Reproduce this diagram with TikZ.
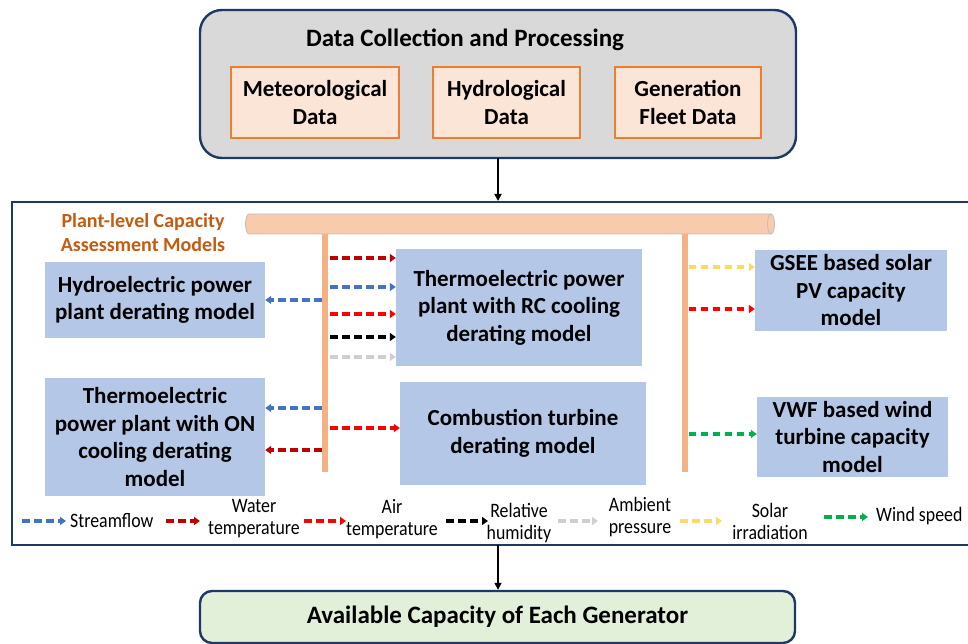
\documentclass[tikz,border=0pt]{standalone}
\usepackage{fontspec}
\setmainfont{Carlito}
\newfontfamily\legendfont[FakeStretch=0.87]{Carlito}
\usetikzlibrary{arrows.meta}

\definecolor{navy}{HTML}{203864}
\definecolor{panelgray}{HTML}{D9D9D9}
\definecolor{srcfill}{HTML}{FBE5D6}
\definecolor{srcline}{HTML}{ED7D31}
\definecolor{pipefill}{HTML}{F8CBAD}
\definecolor{pipeline}{HTML}{BFBFBF}
\definecolor{barfill}{HTML}{F4B183}
\definecolor{modelblue}{HTML}{B4C7E7}
\definecolor{titleorange}{HTML}{C55A11}
\definecolor{outfill}{HTML}{E2F0D9}
\definecolor{cstream}{HTML}{4472C4}
\definecolor{cwater}{HTML}{C00000}
\definecolor{cair}{HTML}{FF0000}
\definecolor{chum}{HTML}{000000}
\definecolor{cpress}{HTML}{D0CECE}
\definecolor{csolar}{HTML}{FFD966}
\definecolor{cwind}{HTML}{00B050}

\tikzset{
  boxtext/.style={inner sep=0pt, align=center, font=\fontsize{23}{27.5}\selectfont\bfseries},
  srcbox/.style={boxtext, draw=srcline, line width=1.6pt, fill=srcfill, minimum height=71},
  modelbox/.style={boxtext, fill=modelblue},
  bar/.style={fill=barfill, inner sep=0pt, minimum width=6},
  flow/.style={line width=3.4pt, dash pattern=on 7.5pt off 4.5pt,
    -{Triangle[length=6pt,width=8pt]}},
  flowstream/.style={flow, cstream},
  flowwater/.style={flow, cwater},
  flowair/.style={flow, cair},
  flowhum/.style={flow, chum},
  flowpress/.style={flow, cpress},
  flowsolar/.style={flow, csolar},
  flowwind/.style={flow, cwind},
  legtext/.style={inner sep=0pt, align=center, font=\legendfont\fontsize{20.5}{22}\selectfont},
  mainarrow/.style={line width=1.6pt, -{Triangle[length=7pt,width=7pt]}},
}

\begin{document}
\begin{tikzpicture}[x=1pt,y=-1pt]
\useasboundingbox (0,0) rectangle (968,644);
\clip (0,0) rectangle (968,644);

% data collection panel
\draw[navy, line width=2.4pt, fill=panelgray, rounded corners=22] (200,10) rectangle (796,158);
\node[inner sep=0pt, font=\fontsize{25}{30}\selectfont\bfseries] (dctitle) at (465,40) {Data Collection and Processing};
\node[srcbox, minimum width=168] (met) at (315,102.5) {Meteorological\\Data};
\node[srcbox, minimum width=147] (hyd) at (506.5,102.5) {Hydrological\\Data};
\node[srcbox, minimum width=146] (gen) at (688,102.5) {Generation\\Fleet Data};
\coordinate (dcbottom) at (498,158);

% plant-level model frame
\draw[navy, line width=2.4pt] (12,202) rectangle (990,545);
\coordinate (frametop) at (498,201);
\coordinate (framebottom) at (498,545);
\draw[mainarrow] (dcbottom) -- (frametop);

\node[inner sep=0pt, align=center, text=titleorange,
  font=\fontsize{20}{24}\selectfont\bfseries] (pltitle) at (143,233) {Plant-level Capacity\\Assessment Models};

% horizontal pipe
\filldraw[fill=pipefill, draw=pipeline, line width=0.8pt]
  (249,214) -- (771,214) arc[start angle=-90, end angle=90, x radius=3.5, y radius=10]
  -- (249,234) arc[start angle=90, end angle=270, x radius=3.5, y radius=10] -- cycle;
\draw[pipeline, line width=0.8pt] (771,214) arc[start angle=-90, end angle=-270, x radius=3.5, y radius=10];

% vertical distribution bars
\node[bar, minimum height=238] (barL) at (325,353) {};
\node[bar, minimum height=238] (barR) at (684.5,353) {};

% model boxes
\node[modelbox, minimum width=220, minimum height=76] (hydro) at (155,300) {Hydroelectric power\\plant derating model};
\node[modelbox, minimum width=220, minimum height=118] (on) at (155,437) {Thermoelectric\\power plant with ON\\cooling derating\\model};
\node[modelbox, minimum width=246, minimum height=117] (rc) at (519,307.5) {Thermoelectric power\\plant with RC cooling\\derating model};
\node[modelbox, minimum width=246, minimum height=103] (ct) at (523,433.5) {Combustion turbine\\derating model};
\node[modelbox, minimum width=192, minimum height=81] (pv) at (851,290.5) {GSEE based solar\\PV capacity\\model};
\node[modelbox, minimum width=191, minimum height=80] (wind) at (852.5,437) {VWF based wind\\turbine capacity\\model};

% inputs to the RC cooling model
\draw[flowwater] ([xshift=2]barL.east |- 0,258) -- (rc.west |- 0,258);
\draw[flowstream] ([xshift=2]barL.east |- 0,287) -- (rc.west |- 0,287);
\draw[flowair] ([xshift=2]barL.east |- 0,314) -- (rc.west |- 0,314);
\draw[flowhum] ([xshift=2]barL.east |- 0,337) -- (rc.west |- 0,337);
\draw[flowpress] ([xshift=2]barL.east |- 0,357) -- (rc.west |- 0,357);

% inputs to the combustion turbine model
\draw[flowair] ([xshift=2]barL.east |- 0,428) -- (ct.west |- 0,428);

% inputs to the hydro and once-through models
\draw[flowstream] (barL.west |- 0,300) -- (hydro.east |- 0,300);
\draw[flowstream] (barL.west |- 0,408) -- (on.east |- 0,408);
\draw[flowwater] (barL.west |- 0,450) -- (on.east |- 0,450);

% inputs to the renewable models
\draw[flowsolar] ([xshift=1]barR.east |- 0,267) -- (pv.west |- 0,267);
\draw[flowair] ([xshift=1]barR.east |- 0,309) -- (pv.west |- 0,309);
\draw[flowwind] ([xshift=1]barR.east |- 0,434) -- (wind.west |- 0,434);

% legend
\node[legtext, anchor=west] (lg1) at (70,521) {Streamflow};
\node[legtext] (lg2) at (254,519) {Water\\temperature};
\node[legtext] (lg3) at (392,519) {Air\\temperature};
\node[legtext] (lg4) at (519,523) {Relative\\humidity};
\node[legtext] (lg5) at (640,517) {Ambient\\pressure};
\node[legtext] (lg6) at (770,521) {Solar\\irradiation};
\node[legtext, anchor=west] (lg7) at (876,516) {Wind speed};
\coordinate (lk1) at (22,521);
\coordinate (lk2) at (166,521);
\coordinate (lk3) at (304,521);
\coordinate (lk4) at (446,521);
\coordinate (lk5) at (558,521);
\coordinate (lk6) at (680,521);
\coordinate (lk7) at (824,517);
\draw[flowstream] (lk1) -- ([xshift=-4]lg1.west |- lk1);
\draw[flowwater] (lk2) -- (200,521);
\draw[flowair] (lk3) -- (346,521);
\draw[flowhum] (lk4) -- (488,521);
\draw[flowpress] (lk5) -- (598,521);
\draw[flowsolar] (lk6) -- (722,521);
\draw[flowwind] (lk7) -- ([xshift=-8]lg7.west |- lk7);

% output
\node[draw=navy, line width=2.4pt, fill=outfill, rounded corners=12, minimum width=595, minimum height=52,
  inner sep=0pt, font=\fontsize{25}{30}\selectfont\bfseries] (out) at (497.5,617) {Available Capacity of Each Generator};
\draw[mainarrow] (framebottom) -- (out.north -| framebottom);
\end{tikzpicture}
\end{document}
